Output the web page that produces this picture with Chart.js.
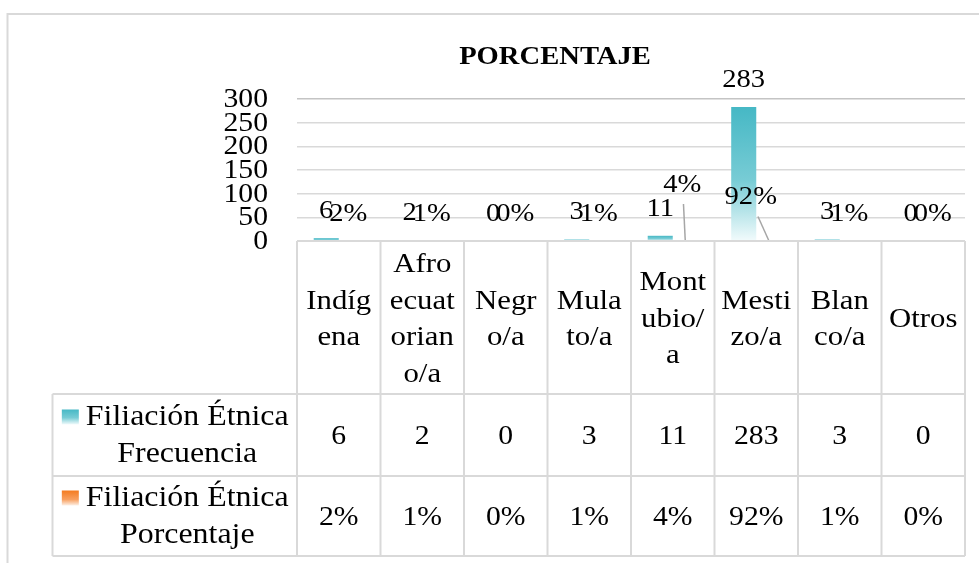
<!DOCTYPE html>
<html>
<head>
<meta charset="utf-8">
<script src="https://cdn.jsdelivr.net/npm/chart.js@4"></script>
<style>
  body { margin: 0; background: #fff; }
  canvas { display: block; }
</style>
</head>
<body>
<canvas id="chart" width="979" height="563"></canvas>
<script>
const categories = ['Indígena', 'Afroecuatoriano/a', 'Negro/a', 'Mulato/a', 'Montubio/a', 'Mestizo/a', 'Blanco/a', 'Otros'];
const frecuencia = [6, 2, 0, 3, 11, 283, 3, 0];
const porcentaje = [2, 1, 0, 1, 4, 92, 1, 0];
const seriesNames = ['Filiación Étnica Frecuencia', 'Filiación Étnica Porcentaje'];
const yTicks = [0, 50, 100, 150, 200, 250, 300];
const chartTitle = 'PORCENTAJE';

// moved percentage labels (index -> [dx, dy]) with leader lines
const pctLabelShift = { 4: [-2, -29], 5: [-17, -16] };

const FONT = '"Liberation Serif", "Times New Roman", serif';
const SX = 1.1; // text is a bit wider than tall in the picture
const GRID = '#d9d9d9';
const TEAL = '#4bbac7';
const ORANGE = '#f47b20';

function txt(ctx, s, x, y, size, align, bold) {
  ctx.save();
  ctx.font = (bold ? 'bold ' : '') + size + 'px ' + FONT;
  ctx.textAlign = align || 'center';
  ctx.textBaseline = 'middle';
  ctx.fillStyle = '#000';
  ctx.translate(x, y);
  ctx.scale(SX, 1);
  ctx.fillText(s, 0, 0);
  ctx.restore();
}

function width(ctx, s, size) {
  ctx.save();
  ctx.font = size + 'px ' + FONT;
  const w = ctx.measureText(s).width * SX;
  ctx.restore();
  return w;
}

// break a word into chunks that fit, like the table header does
function charWrap(ctx, s, size, maxW) {
  const lines = [];
  let cur = '';
  for (const ch of s) {
    if (cur && width(ctx, cur + ch, size) > maxW) {
      lines.push(cur);
      cur = ch;
    } else cur += ch;
  }
  if (cur) lines.push(cur);
  return lines;
}

function wordWrap(ctx, s, size, maxW) {
  const lines = [];
  let cur = '';
  s.split(' ').forEach(w => {
    const t = cur ? cur + ' ' + w : w;
    if (cur && width(ctx, t, size) > maxW) {
      lines.push(cur);
      cur = w;
    } else cur = t;
  });
  if (cur) lines.push(cur);
  return lines;
}

function vGrad(ctx, top, bottom, stops) {
  const g = ctx.createLinearGradient(0, top, 0, bottom);
  stops.forEach(s => g.addColorStop(s[0], s[1]));
  return g;
}

const tealStops = [[0, '#46b8c5'], [0.55, '#78ccd5'], [1, '#f2fbfc']];
const orangeStops = [[0, '#f47b20'], [0.6, '#f8a060'], [1, '#fdf0e6']];

function barFill(stops, solid) {
  return c => {
    const chart = c.chart;
    if (!chart.chartArea || c.type !== 'data') return solid;
    const y = chart.scales.y;
    const top = y.getPixelForValue(c.raw);
    const base = y.getPixelForValue(0);
    if (base - top < 1) return solid;
    return vGrad(chart.ctx, top, base, stops);
  };
}

const decor = {
  id: 'decor',
  beforeDraw(chart) {
    const ctx = chart.ctx;
    ctx.save();
    ctx.fillStyle = '#fff';
    ctx.fillRect(0, 0, chart.width, chart.height);
    ctx.strokeStyle = GRID;
    ctx.lineWidth = 2;
    ctx.beginPath();
    ctx.moveTo(7.5, chart.height);
    ctx.lineTo(7.5, 14);
    ctx.lineTo(chart.width, 14);
    ctx.stroke();
    ctx.restore();
  },
  afterDraw(chart) {
    const ctx = chart.ctx;
    const area = chart.chartArea;
    const ys = chart.scales.y;
    const xs = chart.scales.x;
    const n = categories.length;
    const colW = (area.right - area.left) / n;

    // title
    txt(ctx, chartTitle, 555, 57, 26, 'center', true);

    // y tick labels
    ys.ticks.forEach(t => {
      txt(ctx, String(t.value), area.left - 29, ys.getPixelForValue(t.value) + 1, 27, 'right');
    });

    // data labels
    const m0 = chart.getDatasetMeta(0).data;
    const m1 = chart.getDatasetMeta(1).data;
    frecuencia.forEach((v, i) => {
      txt(ctx, String(v), m0[i].x, m0[i].y - 27, 26, 'center');
    });
    porcentaje.forEach((v, i) => {
      const bx = m1[i].x;
      const by = m1[i].y;
      let lx = bx - 3;
      let ly = by - 27;
      const sh = pctLabelShift[i];
      if (sh) {
        lx += sh[0] + 2;
        ly += sh[1];
        ctx.save();
        ctx.strokeStyle = '#a6a6a6';
        ctx.lineWidth = 1.5;
        ctx.beginPath();
        ctx.moveTo(lx + (bx - lx) * 0.4, ly + 19);
        ctx.lineTo(bx, by);
        ctx.stroke();
        ctx.restore();
      }
      txt(ctx, v + '%', lx, ly, 26, 'center');
    });

    // data table
    const top = area.bottom;
    const r1 = 394;
    const r2 = 476;
    const r3 = 556;
    const legL = 52.5;
    ctx.save();
    ctx.strokeStyle = GRID;
    ctx.lineWidth = 2;
    ctx.beginPath();
    ctx.moveTo(area.left, top); ctx.lineTo(area.right, top);
    [r1, r2, r3].forEach(y => { ctx.moveTo(legL, y); ctx.lineTo(area.right, y); });
    ctx.moveTo(legL, r1); ctx.lineTo(legL, r3);
    for (let i = 0; i <= n; i++) {
      const x = area.left + i * colW;
      ctx.moveTo(x, top); ctx.lineTo(x, r3);
    }
    ctx.stroke();
    ctx.restore();

    const lh = 36.5;
    categories.forEach((c, i) => {
      const cx = xs.getPixelForValue(i);
      const lines = charWrap(ctx, c, 28, 71);
      const y0 = (top + r1) / 2 + 2 - (lines.length - 1) * lh / 2;
      lines.forEach((l, k) => txt(ctx, l, cx, y0 + k * lh, 28, 'center'));
      txt(ctx, String(frecuencia[i]), cx, (r1 + r2) / 2 + 2, 27, 'center');
      txt(ctx, porcentaje[i] + '%', cx, (r2 + r3) / 2 + 2, 27, 'center');
    });

    // series names with swatches
    const rows = [[r1, r2, tealStops], [r2, r3, orangeStops]];
    seriesNames.forEach((s, k) => {
      const [a, b, stops] = rows[k];
      const lines = wordWrap(ctx, s, 29, 215);
      const tc = (legL + area.left) / 2 + 12.5;
      const y0 = (a + b) / 2 + 1 - (lines.length - 1) * 37 / 2;
      lines.forEach((l, j) => txt(ctx, l, tc, y0 + j * 37, 29, 'center'));
      const w1 = width(ctx, lines[0], 29);
      const sx = tc - w1 / 2 - 24;
      ctx.fillStyle = vGrad(ctx, y0 - 8, y0 + 7, stops);
      ctx.fillRect(sx, y0 - 8, 17, 15);
    });
  }
};

new Chart(document.getElementById('chart'), {
  type: 'bar',
  data: {
    labels: categories,
    datasets: [
      {
        label: seriesNames[0],
        data: frecuencia,
        backgroundColor: barFill(tealStops, TEAL),
        borderWidth: 0,
        categoryPercentage: 0.6,
        barPercentage: 1
      },
      {
        label: seriesNames[1],
        data: porcentaje.map(v => v / 100),
        backgroundColor: barFill(orangeStops, ORANGE),
        borderWidth: 0,
        categoryPercentage: 0.6,
        barPercentage: 1
      }
    ]
  },
  options: {
    responsive: false,
    animation: false,
    devicePixelRatio: 1,
    layout: { padding: { left: 297, right: 14, top: 99, bottom: 322 } },
    plugins: {
      legend: { display: false },
      title: { display: false },
      tooltip: { enabled: false }
    },
    scales: {
      x: { display: false },
      y: {
        min: yTicks[0],
        max: yTicks[yTicks.length - 1],
        ticks: { display: false, stepSize: yTicks[1] - yTicks[0] },
        border: { display: false },
        grid: {
          color: c => (c.tick && c.tick.value === yTicks[yTicks.length - 1] ? '#c4c4c4' : GRID),
          lineWidth: 1.5,
          drawTicks: false
        }
      }
    }
  },
  plugins: [decor]
});
</script>
</body>
</html>
